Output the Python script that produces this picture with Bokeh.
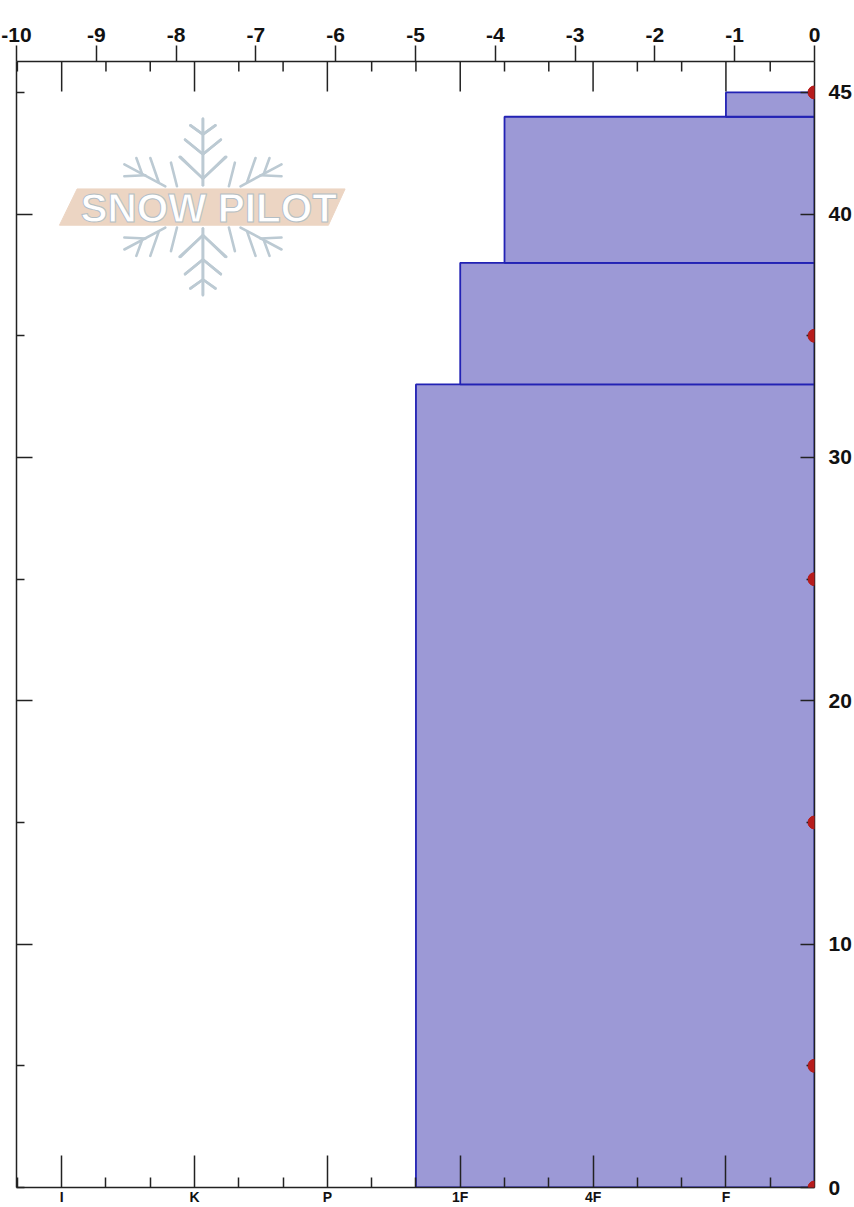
from bokeh.plotting import figure
from bokeh.models import Range1d, LinearAxis, FixedTicker, Label, BoxAnnotation
from bokeh.core.properties import value
from bokeh.embed import file_html
from bokeh.resources import INLINE

# Data
layer_bottom = [0, 33, 38, 44]
layer_top = [33, 38, 44, 45]
layer_hardness = [9, 8, 7, 2]          # thirds of a hand-hardness step, 0 at right
temp_depth = [45, 35, 25, 15, 5, 0]
temp_value = [0, 0, 0, 0, 0, 0]
temp_ticks = [-10, -9, -8, -7, -6, -5, -4, -3, -2, -1, 0]
hard_major = [2, 5, 8, 11, 14, 17]
hard_labels = ["F", "4F", "1F", "P", "K", "I"]
hard_minor = [1, 3, 4, 6, 7, 9, 10, 12, 13, 15, 16, 18]
depth_labels = [0, 10, 20, 30, 40, 45]
depth_rest = [5, 15, 25, 35]
title_text = "Temperature"
logo_text = "SNOW PILOT"

W, H = 854, 1207
L, R, T, B = 16, 815, 61, 1189
PX_PER_DEPTH = 24.378
PX_PER_TEMP = 79.9

p = figure(width=W, height=H, output_backend="svg", toolbar_location=None,
           x_range=Range1d(-10, 0), y_range=Range1d(0, (B - T) / PX_PER_DEPTH),
           min_border_left=L, min_border_right=W - R, min_border_top=T, min_border_bottom=H - B,
           x_axis_location=None, y_axis_location=None, background_fill_color="white",
           border_fill_color="white")
p.grid.visible = False
p.outline_line_color = None
p.extra_x_ranges = {"hard": Range1d(-18.02, 0), "logo": Range1d(L, R)}
p.extra_y_ranges = {"logo": Range1d(B, T)}

FONT = "Liberation Sans"
INK = "#222222"

# logo, in page pixels
ZX, ZY = 50, 110
def zx(v): return ZX + v / 3
def zy(v): return ZY + v / 3
CX, CY = 458, 290
strokes = [
    [(458, 25), (458, 225)],
    [(420, 45), (458, 72), (495, 45)],
    [(405, 88), (458, 132), (512, 88)],
    [(388, 140), (458, 205), (525, 140)],
    [(222, 162), (345, 228)],
    [(258, 143), (275, 190)],
    [(222, 198), (285, 195)],
    [(300, 143), (325, 215)],
    [(362, 157), (380, 228)],
]
lx, ly = [], []
for s in strokes:
    for sx in (1, -1):
        for sy in (1, -1):
            lx.append([zx(CX + sx * (a - CX)) for a, _ in s])
            ly.append([zy(CY + sy * (b - CY)) for _, b in s])
p.multi_line(lx, ly, line_color="#BCCAD3", line_width=2.6, line_cap="round",
             x_range_name="logo", y_range_name="logo")
p.patch([zx(80), zx(885), zx(835), zx(27)], [zy(236), zy(236), zy(345), zy(345)],
        fill_color="#ECD5C3", line_color="#ECD5C3", x_range_name="logo", y_range_name="logo")
p.text([208.5], [207.5], text=[logo_text], text_font=value(FONT), text_font_size="40.5px",
       text_font_style="bold", text_align="center", text_baseline="middle", text_color="white",
       outline_color="#B4BEC4", x_range_name="logo", y_range_name="logo")

# layers
p.quad(left=[-h for h in layer_hardness], right=[0] * 4, bottom=layer_bottom, top=layer_top,
       fill_color="#9C99D6", line_color="#2222B4", line_width=1.8, x_range_name="hard")

# hardness ticks along the top edge
p.segment(x0=[-h for h in hard_major], x1=[-h for h in hard_major], y0=[T] * 6, y1=[T + 30] * 6,
          line_color=INK, line_width=1.5, x_range_name="hard", y_range_name="logo")
p.segment(x0=[-h for h in hard_minor], x1=[-h for h in hard_minor], y0=[T] * 12, y1=[T + 10] * 12,
          line_color=INK, line_width=1.5, x_range_name="hard", y_range_name="logo")

# temperature points: the glyph is cut at the frame, the annotation gives the outer half
p.scatter(temp_value, temp_depth, size=13, color="#B71C1C", marker="circle")
for tv, d in zip(temp_value, temp_depth):
    p.add_layout(BoxAnnotation(left=tv - 6.5 / PX_PER_TEMP, right=tv + 6.5 / PX_PER_TEMP,
                               bottom=d - 6.5 / PX_PER_DEPTH, top=d + 6.5 / PX_PER_DEPTH,
                               border_radius=7, fill_color="#B71C1C", fill_alpha=1,
                               line_color=None, level="guide"))

def axis_style(a, size="21px"):
    a.axis_line_color = INK
    a.axis_line_width = 1.5
    a.major_tick_line_color = INK
    a.minor_tick_line_color = INK
    a.major_tick_line_width = 1.5
    a.minor_tick_line_width = 1.5
    a.major_label_text_font = FONT
    a.major_label_text_font_size = size
    a.major_label_text_font_style = "bold"
    a.major_label_text_color = "#111111"

top = LinearAxis(ticker=FixedTicker(ticks=temp_ticks))
axis_style(top)
top.major_tick_in, top.major_tick_out = 0, 16
top.minor_tick_in = top.minor_tick_out = 0
top.major_label_standoff = 4
top.major_label_overrides = {t: str(t) for t in temp_ticks}
p.add_layout(top, "above")

hbot = LinearAxis(x_range_name="hard", ticker=FixedTicker(ticks=[-t for t in hard_major], minor_ticks=[-t for t in hard_minor]))
axis_style(hbot, "14px")
hbot.major_tick_in, hbot.major_tick_out = 32, 0
hbot.minor_tick_in, hbot.minor_tick_out = 10, 0
hbot.major_label_standoff = 1
hbot.major_label_overrides = {-t: l for t, l in zip(hard_major, hard_labels)}
p.add_layout(hbot, "below")

left = LinearAxis(ticker=FixedTicker(ticks=[10, 20, 30, 40], minor_ticks=[0, 5, 15, 25, 35, 45]))
axis_style(left, "0px")
left.major_tick_in, left.major_tick_out = 16, 0
left.minor_tick_in, left.minor_tick_out = 8, 0
left.major_label_overrides = {t: "" for t in [10, 20, 30, 40]}
p.add_layout(left, "left")

right = LinearAxis(ticker=FixedTicker(ticks=depth_labels, minor_ticks=depth_rest))
axis_style(right, "21px")
right.major_tick_in, right.major_tick_out = 14, 0
right.minor_tick_in, right.minor_tick_out = 8, 0
right.major_label_standoff = 14
right.major_label_orientation = "horizontal"
right.major_label_overrides = {t: str(t) for t in depth_labels}
p.add_layout(right, "right")

p.add_layout(Label(x=7, y=14, x_units="canvas", y_units="canvas", text=title_text,
                   text_font=FONT, text_font_size="18px", text_font_style="bold",
                   text_color="#111111", text_baseline="alphabetic"))

open("out.html", "w").write(file_html(p, INLINE))
